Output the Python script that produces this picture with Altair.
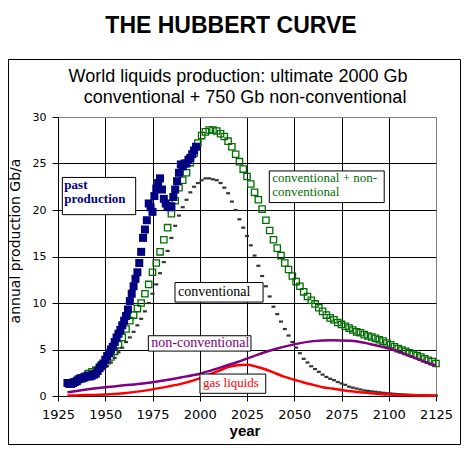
import altair as alt
import pandas as pd

# ---------------- data ----------------
past_years = list(range(1930, 1999))
past_values = [1.4, 1.3, 1.3, 1.4, 1.5, 1.6, 1.8, 1.9, 1.9, 2.0,
               2.1, 2.2, 2.1, 2.2, 2.3, 2.4, 2.7, 3.0, 3.3, 3.5,
               3.9, 4.3, 4.6, 5.0, 5.3, 5.8, 6.3, 6.7, 7.1, 7.6,
               8.1, 8.6, 9.3, 10.2, 11.0, 11.8, 12.6, 13.3, 14.3, 15.5,
               17.0, 17.9, 18.9, 20.7, 20.3, 19.8, 21.5, 22.3, 22.9, 23.4,
               22.2, 21.2, 20.7, 20.4, 20.3, 20.4, 21.4, 22.2, 23.1, 24.0,
               24.9, 24.7, 25.0, 25.0, 25.4, 25.6, 26.0, 26.4, 26.8]

model_years = list(range(1931, 2126, 2))
conventional_values = [1.35, 1.5, 1.6, 1.75, 1.9, 2.1, 2.3, 2.5, 2.7, 2.9,
                       3.2, 3.6, 4.1, 4.7, 5.2, 5.8, 6.3, 6.9, 7.6, 8.3,
                       9.1, 10.0, 11.0, 12.0, 13.2, 14.4, 15.6, 17.0, 18.3, 19.4,
                       20.3, 21.1, 21.9, 22.5, 22.9, 23.2, 23.4, 23.4, 23.3, 23.2,
                       22.9, 22.4, 21.8, 20.9, 20.0, 19.0, 18.1, 17.2, 16.2, 15.1,
                       14.0, 12.9, 11.8, 10.7, 9.6, 8.8, 8.0, 7.2, 6.5, 5.8,
                       5.2, 4.6, 4.0, 3.6, 3.2, 2.9, 2.6, 2.3, 2.05, 1.85,
                       1.7, 1.5, 1.35, 1.2, 1.0, 0.9, 0.8, 0.7, 0.6, 0.55,
                       0.5, 0.45, 0.4, 0.35, 0.3, 0.28, 0.24, 0.2, 0.18, 0.16,
                       0.14, 0.12, 0.1, 0.09, 0.08, 0.07, 0.06, 0.05]
total_values = [1.4, 1.5, 1.7, 1.9, 2.1, 2.4, 2.6, 2.8, 3.1, 3.4,
                3.8, 4.2, 4.8, 5.5, 6.3, 7.2, 8.1, 8.7, 9.4, 10.0,
                11.0, 12.0, 13.3, 14.3, 15.5, 16.8, 18.1, 19.6, 21.0, 22.4,
                23.2, 24.0, 25.1, 26.1, 27.2, 28.0, 28.4, 28.6, 28.6, 28.5,
                28.2, 27.9, 27.4, 26.8, 26.0, 25.2, 24.4, 23.6, 22.8, 21.9,
                21.1, 20.1, 18.9, 17.8, 16.8, 15.9, 15.1, 14.3, 13.6, 12.9,
                12.3, 11.8, 11.2, 10.7, 10.3, 9.9, 9.5, 9.1, 8.7, 8.4,
                8.2, 7.9, 7.7, 7.5, 7.3, 7.1, 6.9, 6.8, 6.6, 6.45,
                6.35, 6.2, 6.05, 5.9, 5.7, 5.5, 5.3, 5.1, 4.95, 4.8,
                4.65, 4.5, 4.35, 4.2, 4.0, 3.85, 3.7, 3.5]

nonconv_years = [1930, 1940, 1950, 1960, 1970, 1980, 1990, 2000, 2010, 2020,
                 2030, 2040, 2050, 2060, 2070, 2080, 2090, 2100, 2110, 2120, 2125]
nonconv_values = [0.4, 0.7, 0.95, 1.15, 1.35, 1.65, 2.0, 2.4, 3.0, 3.65,
                  4.4, 5.05, 5.55, 5.9, 6.0, 5.95, 5.6, 5.1, 4.4, 3.6, 3.25]

gas_years = [1930, 1940, 1950, 1960, 1970, 1980, 1990, 2000, 2010, 2015,
             2020, 2025, 2030, 2035, 2040, 2045, 2050, 2055, 2060, 2065,
             2070, 2075, 2080, 2085, 2090, 2095, 2100, 2105, 2110, 2115, 2120, 2125]
gas_values = [0.05, 0.1, 0.15, 0.3, 0.55, 0.9, 1.3, 1.9, 2.7, 3.1,
              3.3, 3.35, 3.15, 2.85, 2.45, 2.05, 1.75, 1.45, 1.2, 0.95,
              0.8, 0.65, 0.5, 0.4, 0.3, 0.22, 0.15, 0.1, 0.08, 0.06, 0.05, 0.04]

x_ticks = [1925, 1950, 1975, 2000, 2025, 2050, 2075, 2100, 2125]
y_ticks = [0, 5, 10, 15, 20, 25, 30]

# annotation labels (text, colour) and their boxes in data units
label_texts = ["past\nproduction", "conventional + non-\nconventional", "conventional",
               "non-conventional", "gas liquids"]
label_colors = ["#000080", "#006e00", "#000000", "#800080", "#ff0000"]
label_sizes = [13, 13, 14, 14, 13]
box_x0 = [1927.3, 2036.8, 1986.9, 1972.8, 2000.1]
box_x1 = [1966.1, 2097.6, 2033.5, 2027.1, 2034.9]
box_y0 = [19.5, 20.8, 10.1, 4.83, 0.29]
box_y1 = [23.5, 24.2, 12.2, 6.48, 2.36]
text_y = [22.25, 23.05, 10.74, 5.3, 1.02]

# ---------------- tables ----------------
past_df = pd.DataFrame({"year": past_years, "value": past_values})
model_df = pd.DataFrame({"year": model_years, "conv": conventional_values, "total": total_values})
nonconv_df = pd.DataFrame({"year": nonconv_years, "value": nonconv_values})
gas_df = pd.DataFrame({"year": gas_years, "value": gas_values})
ann_df = pd.DataFrame({"label": label_texts, "color": label_colors, "fs": label_sizes,
                       "x0": box_x0, "x1": box_x1, "y0": box_y0, "y1": box_y1, "ty": text_y,
                       "bold": [True, False, False, False, False]})

xscale = alt.Scale(domain=[1925, 2125], nice=False, zero=False)
yscale = alt.Scale(domain=[0, 30], nice=False)

grid_x = {"condition": {"test": "datum.value >= 2125", "value": "#808080"}, "value": "#000000"}
grid_y = {"condition": {"test": "datum.value >= 30", "value": "#808080"}, "value": "#000000"}

xaxis = alt.Axis(values=x_ticks, format="d", title="", grid=True, gridColor=grid_x,
                 gridOpacity=1, gridWidth=1, domainColor="#000000", tickColor="#000000",
                 tickSize=5, labelPadding=7, labelFont="DejaVu Sans", labelFontSize=13,
                 labelColor="#000000", labelFlush=False, labelOverlap=False)
yaxis = alt.Axis(values=y_ticks, format="d", title="", grid=True, gridColor=grid_y,
                 gridOpacity=1, gridWidth=1, domainColor="#000000", tickColor="#000000",
                 tickSize=6, labelPadding=6, labelFont="DejaVu Sans", labelFontSize=11,
                 labelColor="#000000")

X = alt.X("year:Q", scale=xscale, axis=xaxis)
Y = alt.Y("value:Q", scale=yscale, axis=yaxis)

green = alt.Chart(model_df).mark_square(filled=False, size=40, color="#006e00",
                                        strokeWidth=1.3, opacity=1).encode(
    x=alt.X("year:Q", scale=xscale), y=alt.Y("total:Q", scale=yscale))

conv = alt.Chart(model_df).mark_point(shape="M-1,-0.55H1V0.55H-1Z", filled=True, size=16,
                                      color="#333333", opacity=1, strokeWidth=0).encode(
    x=alt.X("year:Q", scale=xscale), y=alt.Y("conv:Q", scale=yscale))

gas = alt.Chart(gas_df).mark_line(color="#ff0000", strokeWidth=2.5, interpolate="monotone").encode(
    x=alt.X("year:Q", scale=xscale), y=alt.Y("value:Q", scale=yscale))

nonconv = alt.Chart(nonconv_df).mark_line(color="#800080", strokeWidth=2.5,
                                          interpolate="monotone").encode(
    x=alt.X("year:Q", scale=xscale), y=alt.Y("value:Q", scale=yscale))

past = alt.Chart(past_df).mark_square(size=64, color="#000080", opacity=1).encode(x=X, y=Y)

boxes = alt.Chart(ann_df).mark_rect(fill="#ffffff", stroke="#000000", strokeWidth=1).encode(
    x=alt.X("x0:Q", scale=xscale), x2="x1:Q",
    y=alt.Y("y0:Q", scale=yscale), y2="y1:Q")

texts_regular = alt.Chart(ann_df).transform_filter("!datum.bold").mark_text(
    align="left", baseline="alphabetic", dx=3, font="Liberation Serif", lineBreak="\n",
    lineHeight=14).encode(
    x=alt.X("x0:Q", scale=xscale), y=alt.Y("ty:Q", scale=yscale), text="label:N",
    color=alt.Color("color:N", scale=None), size=alt.Size("fs:Q", scale=None))

texts_bold = alt.Chart(ann_df).transform_filter("datum.bold").mark_text(
    align="left", baseline="alphabetic", dx=2, font="Liberation Serif", fontWeight="bold",
    lineBreak="\n", lineHeight=14).encode(
    x=alt.X("x0:Q", scale=xscale), y=alt.Y("ty:Q", scale=yscale), text="label:N",
    color=alt.Color("color:N", scale=None), size=alt.Size("fs:Q", scale=None))

one = pd.DataFrame({"k": [0]})
frame = alt.Chart(one).mark_rect(fill="transparent", stroke="#000000", strokeWidth=1).encode(
    x=alt.value(-49.5), x2=alt.value(402.5), y=alt.value(-57.5), y2=alt.value(327.5))

main_title = alt.Chart(pd.DataFrame({"t": ["THE HUBBERT CURVE"]})).mark_text(
    font="Liberation Sans", fontSize=23, fontWeight="bold", align="center",
    baseline="middle", color="#000000").encode(text="t:N", x=alt.value(173), y=alt.value(-91))

sub1 = alt.Chart(pd.DataFrame({"t": ["World liquids production: ultimate 2000 Gb"]})).mark_text(
    font="Liberation Sans", fontSize=18, align="center", baseline="alphabetic",
    color="#000000").encode(text="t:N", x=alt.value(180), y=alt.value(-35.3))

sub2 = alt.Chart(pd.DataFrame({"t": ["conventional + 750 Gb non-conventional"]})).mark_text(
    font="Liberation Sans", fontSize=18, align="center", baseline="alphabetic",
    color="#000000").encode(text="t:N", x=alt.value(187), y=alt.value(-13.7))

ytitle = alt.Chart(pd.DataFrame({"t": ["annual production  Gb/a"]})).mark_text(
    font="DejaVu Sans", fontSize=14, angle=270, align="center", baseline="middle",
    color="#000000").encode(text="t:N", x=alt.value(-42), y=alt.value(124))

xtitle = alt.Chart(pd.DataFrame({"t": ["year"]})).mark_text(
    font="Liberation Sans", fontSize=15, fontWeight="bold", align="center",
    baseline="alphabetic", color="#000000").encode(text="t:N", x=alt.value(187), y=alt.value(319))

chart = alt.layer(
    past.transform_filter("false"),  # establishes axes first
    green, conv, gas, nonconv, past, boxes, texts_regular, texts_bold,
    frame, main_title, sub1, sub2, ytitle, xtitle
).properties(
    width=378, height=279,
    autosize=alt.AutoSizeParams(type="none"),
    padding={"left": 50, "top": 109, "right": 25, "bottom": 50},
    background="#ffffff"
).configure_view(stroke="#808080", strokeWidth=1)

chart.save("out.html", embed_options={"renderer": "svg", "actions": False})
